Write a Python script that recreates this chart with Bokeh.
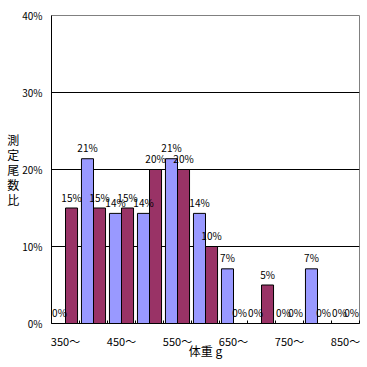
from bokeh.plotting import figure
from bokeh.models import Range1d, FixedTicker, ColumnDataSource, PrintfTickFormatter
from bokeh.transform import dodge
from bokeh.core.properties import value
from bokeh.embed import file_html
from bokeh.resources import INLINE
import numpy as np

# ---- data ----
categories = ["350～", "400～", "450～", "500～", "550～", "600～",
              "650～", "700～", "750～", "800～", "850～"]
blue_pct = [0, 21.4, 14.3, 14.3, 21.4, 14.3, 7.1, 0, 0, 7.1, 0]
maroon_pct = [15, 15, 15, 20, 20, 10, 0, 5, 0, 0, 0]
y_ticks = [0, 10, 20, 30, 40]
x_title = "体重 g"
y_title = "測定尾数比"

FONT = "Noto Sans CJK JP"
BLUE = "#9999FF"
MAROON = "#993366"

n = len(categories)
centers = np.arange(n) + 0.5
src = ColumnDataSource(dict(
    x=centers,
    blue=blue_pct,
    maroon=maroon_pct,
    blue_lbl=[f"{round(v)}%" for v in blue_pct],
    maroon_lbl=[f"{round(v)}%" for v in maroon_pct],
))

p = figure(width=360, height=361, output_backend="svg", toolbar_location=None,
           x_range=Range1d(0, n), y_range=Range1d(0, 40),
           min_border_left=51, min_border_right=1, min_border_top=15, min_border_bottom=38)
p.outline_line_color = "#808080"
p.outline_line_width = 1
p.background_fill_color = "white"
p.border_fill_color = "white"

w = 0.43
off = 0.215
p.vbar(x=dodge("x", -off, range=p.x_range), top="blue", width=w, source=src,
       fill_color=BLUE, line_color="black", line_width=1)
p.vbar(x=dodge("x", off, range=p.x_range), top="maroon", width=w, source=src,
       fill_color=MAROON, line_color="black", line_width=1)

for col, lbl, o in (("blue", "blue_lbl", -off), ("maroon", "maroon_lbl", off)):
    p.text(x=dodge("x", o, range=p.x_range), y=col, text=lbl, source=src,
           text_font=value(FONT), text_font_size="10px", text_align="center",
           text_baseline="alphabetic", y_offset=-11, text_color="black")

# x axis
xa = p.xaxis[0]
label_pos = [float(c) for c in centers[::2]]
xa.ticker = FixedTicker(ticks=label_pos, minor_ticks=list(range(n + 1)))
xa.major_label_overrides = {float(c): categories[i] for i, c in enumerate(centers) if i % 2 == 0}
xa.major_tick_in = 0
xa.major_tick_out = 0
xa.minor_tick_in = 3
xa.minor_tick_out = 0
xa.minor_tick_line_color = "black"
xa.axis_line_color = "black"
xa.major_label_text_font = FONT
xa.major_label_text_font_size = "11px"
xa.major_label_text_color = "black"
xa.major_label_standoff = 9
xa.axis_label = x_title
xa.axis_label_text_font = FONT
xa.axis_label_text_font_size = "12px"
xa.axis_label_text_font_style = "normal"
xa.axis_label_text_color = "black"
xa.axis_label_standoff = -10

# y axis
ya = p.yaxis[0]
ya.ticker = FixedTicker(ticks=y_ticks)
ya.formatter = PrintfTickFormatter(format="%d%%")
ya.major_tick_in = 0
ya.major_tick_out = 0
ya.minor_tick_in = 0
ya.minor_tick_out = 0
ya.axis_line_color = "black"
ya.major_label_text_font = FONT
ya.major_label_text_font_size = "10px"
ya.major_label_text_color = "black"
ya.major_label_standoff = 9
ya.axis_label = "\n".join(y_title)
ya.axis_label_orientation = "horizontal"
ya.axis_label_text_font = FONT
ya.axis_label_text_font_size = "12px"
ya.axis_label_text_font_style = "normal"
ya.axis_label_text_color = "black"
ya.axis_label_text_line_height = 0.88
ya.axis_label_standoff = 0

p.xgrid.visible = False
p.ygrid.ticker = FixedTicker(ticks=[10, 20, 30])
p.ygrid.grid_line_color = "black"
p.ygrid.grid_line_width = 1

open("out.html", "w").write(file_html(p, INLINE))
